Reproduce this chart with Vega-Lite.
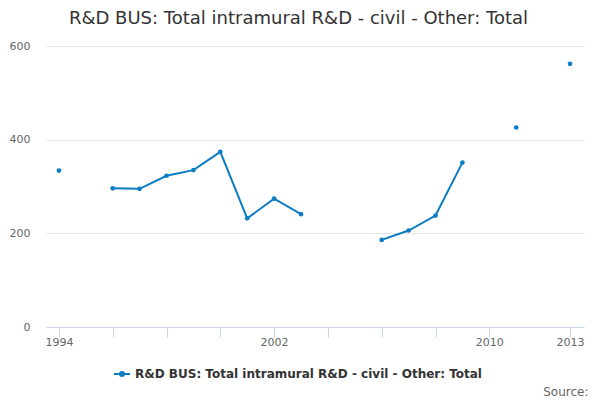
{
  "$schema": "https://vega.github.io/schema/vega-lite/v6.json",
  "autosize": {"type": "none"},
  "padding": {"left": 46, "top": 46, "right": 16, "bottom": 73},
  "width": 538,
  "height": 281,
  "title": {
    "text": "R&D BUS: Total intramural R&D - civil - Other: Total",
    "fontSize": 18,
    "fontWeight": "normal",
    "color": "#333333",
    "font": "DejaVu Sans",
    "anchor": "middle",
    "frame": "bounds",
    "offset": 12
  },
  "data": {
    "values": [
      {"year": 1994, "value": 334},
      {"year": 1995, "value": null},
      {"year": 1996, "value": 296},
      {"year": 1997, "value": 295},
      {"year": 1998, "value": 323},
      {"year": 1999, "value": 335},
      {"year": 2000, "value": 374},
      {"year": 2001, "value": 232},
      {"year": 2002, "value": 274},
      {"year": 2003, "value": 241},
      {"year": 2004, "value": null},
      {"year": 2005, "value": null},
      {"year": 2006, "value": 186},
      {"year": 2007, "value": 206},
      {"year": 2008, "value": 238},
      {"year": 2009, "value": 351},
      {"year": 2010, "value": null},
      {"year": 2011, "value": 426},
      {"year": 2012, "value": null},
      {"year": 2013, "value": 562}
    ]
  },
  "mark": {
    "type": "line",
    "strokeWidth": 2,
    "point": {"filled": true, "size": 22}
  },
  "encoding": {
    "x": {
      "field": "year",
      "type": "quantitative",
      "scale": {"domain": [1993.52, 2013.52], "nice": false, "zero": false},
      "axis": {
        "title": "Source:",
        "titleAnchor": "end",
        "titleAlign": "right",
        "titleX": 542,
        "titleY": 68,
        "titleBaseline": "alphabetic",
        "titleFontSize": 12,
        "titleFontWeight": "normal",
        "titleColor": "#666666",
        "values": [1994, 1996, 1998, 2000, 2002, 2004, 2006, 2008, 2010, 2013],
        "format": "d",
        "labelExpr": "datum.value == 1994 || datum.value == 2002 || datum.value == 2010 || datum.value == 2013 ? datum.label : ''",
        "labelFlush": false,
        "labelOverlap": false,
        "labelPadding": -1,
        "tickSize": 10,
        "tickColor": "#ccd6eb",
        "domainColor": "#ccd6eb",
        "grid": false,
        "zindex": 1
      }
    },
    "y": {
      "field": "value",
      "type": "quantitative",
      "scale": {"domain": [0, 600], "nice": false},
      "axis": {
        "title": null,
        "values": [0, 200, 400, 600],
        "domain": false,
        "ticks": false,
        "labelPadding": 16,
        "gridColor": "#e6e6e6"
      }
    },
    "color": {
      "datum": "R&D BUS: Total intramural R&D - civil - Other: Total",
      "scale": {"range": ["#0c7cc4"]},
      "legend": {
        "title": null,
        "orient": "none",
        "legendX": 67,
        "legendY": 319,
        "labelFontSize": 12,
        "labelFontWeight": "bold",
        "labelColor": "#333333",
        "labelLimit": 0,
        "symbolType": "M-1,0L1,0M-0.25,0a0.25,0.25 0 1,0 0.5,0a0.25,0.25 0 1,0 -0.5,0",
        "symbolSize": 256,
        "symbolStrokeWidth": 2,
        "symbolFillColor": "#0c7cc4",
        "symbolStrokeColor": "#0c7cc4"
      }
    }
  },
  "config": {
    "font": "DejaVu Sans",
    "axis": {
      "labelFontSize": 11,
      "labelColor": "#666666",
      "labelFont": "DejaVu Sans"
    },
    "legend": {"labelFont": "DejaVu Sans"},
    "view": {"stroke": null}
  }
}
